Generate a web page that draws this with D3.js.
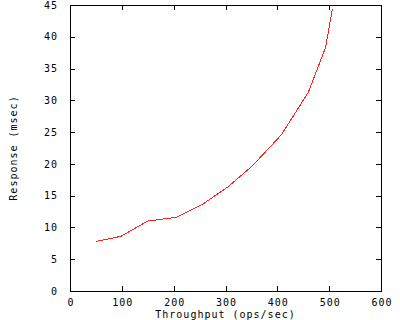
<!DOCTYPE html>
<html>
<head>
<meta charset="utf-8">
<script src="https://cdn.jsdelivr.net/npm/d3@7"></script>
<style>
	body { margin: 0; background: #fff; }
	svg text { font-family: "DejaVu Sans Mono", monospace; font-size: 10px; letter-spacing: 1px; fill: #000; }
</style>
</head>
<body>
<div id="chart"></div>
<script>
	// data
	var throughput = [50, 98, 150, 205, 255, 305, 352, 408, 460, 493, 506];
	var response = [7.8, 8.6, 11.0, 11.6, 13.6, 16.4, 19.7, 24.6, 31.3, 38.3, 44.3];
	var xTicks = [0, 100, 200, 300, 400, 500, 600];
	var yTicks = [0, 5, 10, 15, 20, 25, 30, 35, 40, 45];

	var width = 400, height = 320;
	// plot box (note: "top" is a reserved window global, so use other names)
	var plotLeft = 70, plotRight = 381, plotTop = 5, plotBottom = 291;

	var svg = d3.select("#chart").append("svg")
		.attr("width", width)
		.attr("height", height);

	var x = d3.scaleLinear().domain([0, 600]).range([plotLeft, plotRight]);
	var y = d3.scaleLinear().domain([0, 45]).range([plotBottom, plotTop]);

	// axes with inward ticks, mirrored on top/right
	var gx = svg.append("g")
		.attr("transform", "translate(0," + plotBottom + ")")
		.call(d3.axisBottom(x).tickValues(xTicks).tickSize(-5).tickSizeOuter(0).tickPadding(8));
	var gy = svg.append("g")
		.attr("transform", "translate(" + plotLeft + ",0)")
		.call(d3.axisLeft(y).tickValues(yTicks).tickSize(-5).tickSizeOuter(0).tickPadding(13));
	var gx2 = svg.append("g")
		.attr("transform", "translate(0," + plotTop + ")")
		.call(d3.axisTop(x).tickValues(xTicks).tickSize(-5).tickSizeOuter(0).tickFormat(""));
	var gy2 = svg.append("g")
		.attr("transform", "translate(" + plotRight + ",0)")
		.call(d3.axisRight(y).tickValues(yTicks).tickSize(-5).tickSizeOuter(0).tickFormat(""));

	[gx, gy, gx2, gy2].forEach(function(g) {
		g.select(".domain").remove();
		g.selectAll("line").attr("stroke", "#000").attr("shape-rendering", "crispEdges");
		g.selectAll("text").attr("font-family", null).attr("font-size", null);
	});
	gx.selectAll("text").attr("dy", "0.35em").attr("y", 11).attr("dx", "0.5px");
	gy.selectAll("text").attr("dx", "1px");

	svg.append("rect")
		.attr("x", plotLeft + 0.5)
		.attr("y", plotTop + 0.5)
		.attr("width", plotRight - plotLeft)
		.attr("height", plotBottom - plotTop)
		.attr("fill", "none")
		.attr("stroke", "#000")
		.attr("shape-rendering", "crispEdges");

	var line = d3.line()
		.x(function(d) { return x(d[0]); })
		.y(function(d) { return y(d[1]); });

	svg.append("path")
		.datum(d3.zip(throughput, response))
		.attr("d", line)
		.attr("fill", "none")
		.attr("stroke", "#ff2020")
		.attr("stroke-width", 1)
		.attr("shape-rendering", "crispEdges");

	svg.append("text")
		.attr("x", (plotLeft + plotRight) / 2)
		.attr("y", 314)
		.attr("dy", "0.35em")
		.attr("text-anchor", "middle")
		.text("Throughput (ops/sec)");

	svg.append("text")
		.attr("transform", "translate(13," + (plotTop + plotBottom) / 2 + ") rotate(-90)")
		.attr("dy", "0.35em")
		.attr("text-anchor", "middle")
		.text("Response (msec)");
</script>
</body>
</html>
